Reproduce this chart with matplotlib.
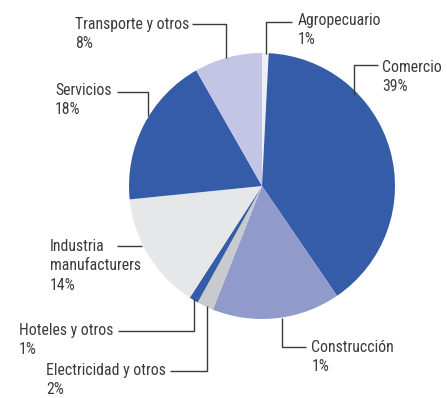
import matplotlib.pyplot as plt
from matplotlib import font_manager
from matplotlib.textpath import TextPath

# data (clockwise from 12 o'clock)
sectors = ['Agropecuario', 'Comercio', 'Construcción', 'Electricidad y otros',
           'Hoteles y otros', 'Industria\nmanufacturers', 'Servicios', 'Transporte y otros']
shares = [0.8, 39.5, 15.5, 2.0, 1.1, 14.2, 18.3, 8.2]
pct_labels = ['1%', '39%', '1%', '2%', '1%', '14%', '18%', '8%']
colors = ['#eef0f5', '#345ca8', '#919bcb', '#c8cacd', '#345ca8', '#e6e7e9', '#345ca8', '#c2c6e4']

W, H = 447, 398
CX, CY, R = 262, H - 186, 133
LINE_PITCH = 19.5

# label layout in pixel coords: (text x, first baseline y), leader polyline
layout = {
    'Agropecuario': ((298, 25), [(266, 54), (266, 21.5), (292, 21.5)]),
    'Comercio': ((382, 71.5), [(353.5, 95), (353.5, 65), (378, 65)]),
    'Construcción': ((311.5, 351.5), [(281.5, 318), (281.5, 347), (306, 347)]),
    'Electricidad y otros': ((46.5, 375), [(206.5, 306), (206.5, 371), (170, 371)]),
    'Hoteles y otros': ((19, 335), [(194, 299), (194, 330.5), (118, 330.5)]),
    'Industria\nmanufacturers': ((50, 251), [(142, 246), (117, 246)]),
    'Servicios': ((55, 95), [(148, 116), (148, 91.5), (116.5, 91.5)]),
    'Transporte y otros': ((75, 29), [(225.5, 58), (225.5, 24), (191.5, 24)]),
}


def pick_font():
    # prefer a narrow/condensed sans, as in the reference
    prefs = ['Liberation Sans Narrow', 'Roboto Condensed', 'Open Sans Condensed',
             'DejaVu Sans Condensed']
    fonts = font_manager.fontManager.ttflist
    for p in prefs:
        for f in fonts:
            if f.name == p and f.weight in (400, 'normal', 'regular') and f.style == 'normal':
                return font_manager.FontProperties(fname=f.fname)
    for f in fonts:
        if (f.stretch in ('condensed', 'semi-condensed') and f.style == 'normal'
                and f.weight in (400, 'normal', 'regular') and 'Mono' not in f.name
                and 'Serif' not in f.name):
            return font_manager.FontProperties(fname=f.fname)
    return font_manager.FontProperties(family='Roboto')


fp = pick_font()
# size the font so that the widest label matches the reference width (113 px)
w1 = TextPath((0, 0), 'Transporte y otros', size=1, prop=fp).get_extents().width
font_pt = min(12.2, 113 / (w1 * 100 / 72))
fp.set_size(font_pt)

fig = plt.figure(figsize=(W / 100, H / 100), dpi=100)
ax = fig.add_axes([0, 0, 1, 1])

ax.pie(shares, colors=colors, startangle=90, counterclock=False,
       center=(CX, CY), radius=R, wedgeprops={'linewidth': 0})
ax.set_xlim(0, W)
ax.set_ylim(0, H)
ax.set_aspect('equal')
ax.axis('off')

for name, pct in zip(sectors, pct_labels):
    (tx, ty), pts = layout[name]
    xs = [p[0] for p in pts]
    ys = [H - p[1] for p in pts]
    ax.plot(xs, ys, color='#3a3a3a', linewidth=1.0, solid_capstyle='butt')
    lines = name.split('\n') + [pct]
    for i, line in enumerate(lines):
        ax.text(tx, H - (ty + i * LINE_PITCH), line, ha='left', va='baseline',
                fontproperties=fp, color='#3a3a3a')

fig.savefig('out.png', dpi=100)
